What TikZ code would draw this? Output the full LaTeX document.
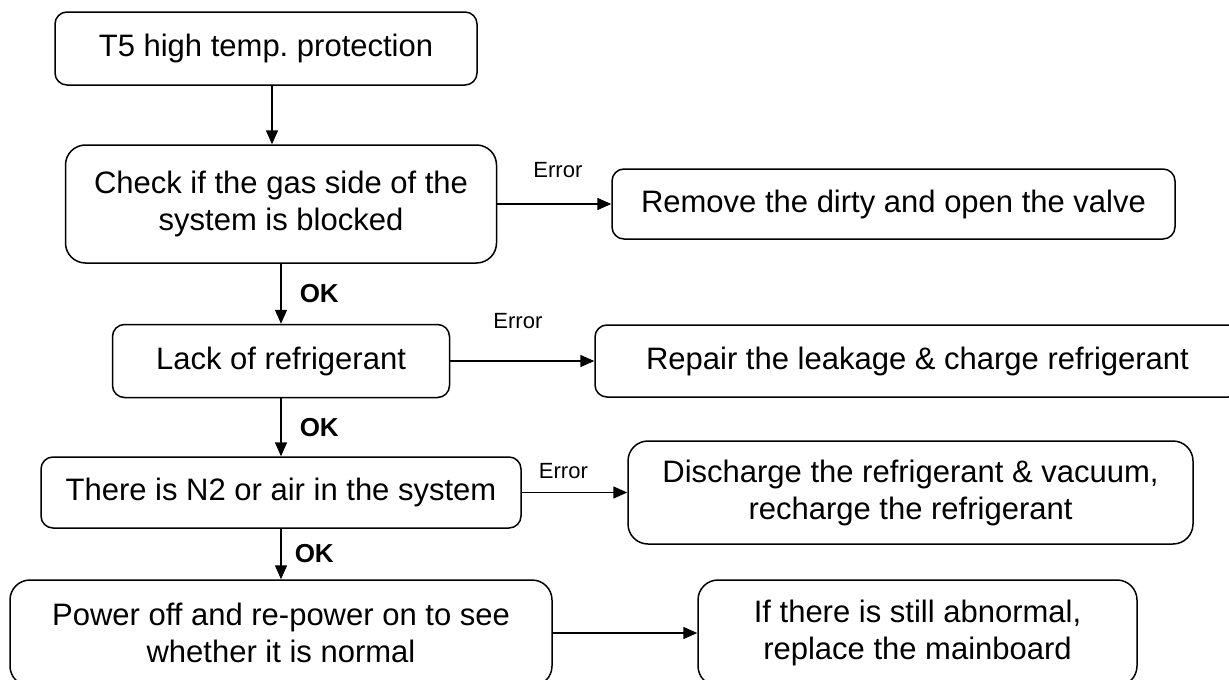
\documentclass[tikz,border=0pt]{standalone}
\usepackage{fontspec}
\setmainfont{Liberation Sans}
\frenchspacing
\usetikzlibrary{positioning, arrows.meta}
\tikzset{>={Triangle[length=14pt,width=12pt]}}
\tikzset{
  stepbox/.style={draw, fill=white, line width=1.5pt, rounded corners=12pt,
    align=center, inner sep=0pt, font=\fontsize{31}{37}\selectfont},
  tallbox/.style={stepbox, rounded corners=20pt},
  errlbl/.style={inner sep=0pt, font=\fontsize{22}{26}\selectfont},
  oklbl/.style={inner sep=0pt, font=\bfseries\fontsize{26}{30}\selectfont},
  flow/.style={->, line width=1.5pt}
}

\begin{document}
\begin{tikzpicture}[x=1pt, y=-1pt]
\useasboundingbox (0,0) rectangle (1229,680);
% left column
\node[stepbox, minimum width=422pt, minimum height=73pt] (t5) at (266,48.5) {T5 high temp. protection};
\node[tallbox, minimum width=431pt, minimum height=118pt] (gas) at (281,204) {Check if the gas side of the\\system is blocked};
\node[stepbox, minimum width=337pt, minimum height=73pt] (lack) at (281,361) {Lack of refrigerant};
\node[stepbox, minimum width=480pt, minimum height=71pt] (air) at (281,492.5) {There is N2 or air in the system};
\node[tallbox, minimum width=542pt, minimum height=106pt] (power) at (281,633) {Power off and re-power on to see\\whether it is normal};
% right column
\node[stepbox, minimum width=563pt, minimum height=70pt] (dirty) at (893.5,204) {Remove the dirty and open the valve};
\node[stepbox, minimum width=645pt, minimum height=72pt] (leak) at (917.5,361) {Repair the leakage \& charge refrigerant};
\node[tallbox, minimum width=565pt, minimum height=103pt] (vac) at (910.5,492.5) {Discharge the refrigerant \& vacuum,\\recharge the refrigerant};
\node[tallbox, minimum width=439pt, minimum height=106pt] (board) at (917.5,633) {If there is still abnormal,\\replace the mainboard};

\draw[flow] ([xshift=6pt]t5.south) -- ([xshift=6pt]t5.south |- gas.north);
\draw[flow] (gas) -- node[oklbl, right=18pt] (ok1) {OK} (lack);
\draw[flow] (lack) -- node[oklbl, right=18pt] (ok2) {OK} (air);
\draw[flow] (air) -- node[oklbl, right=13pt] (ok3) {OK} (power);

\draw[flow] (gas) -- (dirty);
\draw[flow] (lack) -- (leak);
\draw[flow] (air) -- (vac);
\draw[flow] (power) -- (board);
\node[errlbl, above right=26pt and 36pt of gas.east] (err1) {Error};
\node[errlbl, above right=32pt and 43pt of lack.east] (err2) {Error};
\node[errlbl, above right=14pt and 17pt of air.east] (err3) {Error};
\end{tikzpicture}
\end{document}
